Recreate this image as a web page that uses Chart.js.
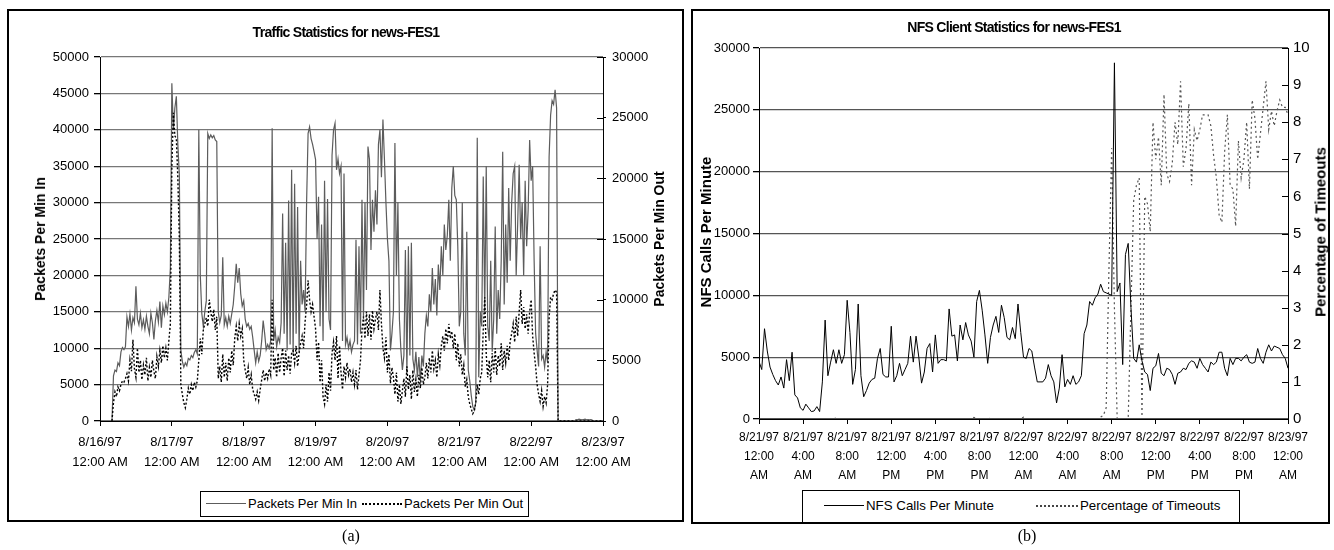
<!DOCTYPE html>
<html>
<head>
<meta charset="utf-8">
<script src="https://cdn.jsdelivr.net/npm/chart.js"></script>
<style>
  body { margin: 0; background: #fff; width: 1334px; height: 550px; position: relative; overflow: hidden; font-family: 'Liberation Sans', Arial, sans-serif; }
  .frame { position: absolute; border: 2px solid #000; box-sizing: border-box; }
  canvas { position: absolute; top: 0; }
  .txt { position: absolute; white-space: nowrap; color: #000; }
  .title { font-weight: bold; font-size: 14px; letter-spacing: -0.7px; transform: translate(-50%, -50%); }
  .ytitle { font-weight: bold; transform: translate(-50%, -50%) rotate(-90deg); }
  .legend { position: absolute; border: 1px solid #000; box-sizing: border-box; background: #fff; }
  .swatch { position: absolute; height: 0; }
  .item { transform: translateY(-50%); }
  .cap { font-family: 'Liberation Serif', 'Times New Roman', serif; font-size: 16px; transform: translate(-50%, -50%); }
</style>
</head>
<body>
<div class="frame" style="left:7px; top:9px; width:677px; height:513px;"></div>
<div class="frame" style="left:691px; top:9px; width:639px; height:515px;"></div>

<canvas id="traffic" width="680" height="550" style="left:0;"></canvas>
<canvas id="nfs" width="644" height="550" style="left:690px;"></canvas>

<div class="txt title" style="left:346px; top:32px;">Traffic Statistics for news-FES1</div>
<div class="txt ytitle" style="left:40px; top:239px; font-size:14px;">Packets Per Min In</div>
<div class="txt ytitle" style="left:659px; top:239px; font-size:14px;">Packets Per Min Out</div>

<div class="legend" style="left:200px; top:491px; width:329px; height:26px;"></div>
<div class="swatch" style="left:206px; top:503px; width:40px; border-top:1px solid #5c5c5c;"></div>
<div class="txt item" style="left:248px; top:503px; font-size:13px;">Packets Per Min In</div>
<div class="swatch" style="left:362px; top:503px; width:40px; border-top:2px dotted #000;"></div>
<div class="txt item" style="left:404px; top:503px; font-size:13px;">Packets Per Min Out</div>
<div class="txt cap" style="left:351px; top:536px;">(a)</div>

<div class="txt title" style="left:1014px; top:27px;">NFS Client Statistics for news-FES1</div>
<div class="txt ytitle" style="left:705px; top:232px; font-size:15px;">NFS Calls Per Minute</div>
<div class="txt ytitle" style="left:1320px; top:232px; font-size:15px;">Percentage of Timeouts</div>

<div class="legend" style="left:802px; top:490px; width:438px; height:33px;"></div>
<div class="swatch" style="left:824px; top:505px; width:40px; border-top:1px solid #000;"></div>
<div class="txt item" style="left:866px; top:505px; font-size:13.3px;">NFS Calls Per Minute</div>
<div class="swatch" style="left:1036px; top:505px; width:42px; border-top:2px dotted #444;"></div>
<div class="txt item" style="left:1080px; top:505px; font-size:13.3px;">Percentage of Timeouts</div>
<div class="txt cap" style="left:1027px; top:536px;">(b)</div>

<script>
// (a) traffic, one value every half hour from 8/16 4:00 AM
const trafficStartHour = 4;
const trafficStepHours = 0.5;
const trafficTickDates = ['8/16/97', '8/17/97', '8/18/97', '8/19/97', '8/20/97', '8/21/97', '8/22/97', '8/23/97'];
const trafficTickTime = '12:00 AM';

const packetsIn = [
  0, 6200, 7000, 6800, 8000, 7600, 9500, 10100, 9800, 10200, 14300, 13000,
  14700, 12500, 14200, 13500, 18500, 14000, 13200, 14800, 12800, 13900, 12600, 14400,
  13000, 12000, 14800, 13500, 11200, 13800, 15200, 13600, 16400, 12800, 15800, 14600,
  16200, 15000, 17000, 21000, 46400, 40000, 43000, 44600, 38000, 33800, 9700, 8200,
  7400, 8000, 7600, 8600, 8400, 9000, 8700, 9400, 9800, 9200, 40000, 20000,
  14800, 13000, 15000, 16500, 39500, 38800, 39300, 38900, 39200, 38600, 38400, 15000,
  13500, 14500, 22500, 13200, 14200, 13000, 14400, 13400, 14700, 16000, 18500, 21600,
  19000, 21000, 17500, 15800, 16500, 14000, 13000, 13400, 12600, 13000, 11500, 9700,
  8000, 9500, 8200, 9000, 11000, 13800, 12000, 9800, 10500, 10000, 11000, 40200,
  11000, 12500, 10200, 11500, 10800, 13500, 28500, 12000, 24500, 9700, 30300, 10500,
  34500, 9000, 32600, 12000, 29400, 9500, 22000, 16000, 18000, 15000, 30000, 39500,
  40400, 38800, 38000, 37000, 35900, 25000, 30800, 13000, 27000, 11000, 33000, 15000,
  30500, 14000, 12500, 36500, 40000, 40900, 34500, 36000, 34000, 35000, 11000, 34000,
  10500, 11500, 10000, 11000, 9500, 10500, 11000, 24900, 10500, 24000, 12000, 30400,
  14000, 30000, 18000, 37700, 35900, 23500, 30400, 26000, 31700, 27000, 38000, 40000,
  33500, 41400, 36000, 30000, 25000, 22000, 9700, 12000, 15000, 38200, 20000, 30000,
  14000, 9700, 7000, 9000, 23500, 6500, 24000, 9000, 24500, 8500, 7000, 9500,
  6000, 8800, 5500, 9000, 7500, 12000, 14500, 13000, 17400, 15000, 21000, 16000,
  19500, 14500, 21500, 18000, 24000, 20000, 27000, 23500, 25500, 30400, 22000, 32000,
  35000, 31000, 30400, 24000, 13000, 15000, 30000, 12000, 9000, 26000, 7000, 5500,
  3500, 2000, 1500, 2500, 38900, 6000, 15000, 13000, 33600, 15000, 35000, 13000,
  11000, 22000, 9500, 14000, 26700, 12000, 18000, 14000, 22000, 37000, 16000, 27000,
  19000, 32000, 22000, 30000, 34000, 35000, 20000, 27000, 35200, 25000, 30000, 20000,
  33000, 24000, 29000, 38600, 33000, 35000, 22000, 12000, 9700, 7500, 24000, 8500,
  9000, 7400, 9500, 8000, 36300, 42000, 44000, 43500, 45500, 43000, 0, 0,
  0, 0, 0, 0, 0, 0, 0, 0, 0, 0, 200, 150,
  250, 200, 150, 200, 250, 150, 200, 150, 200, 100, 0, 0,
  0, 0, 0, 0, 0
];

const packetsOut = [
  0, 1500, 2400, 2000, 2800, 2500, 3000, 3300, 3200, 3500, 3900, 3300,
  5000, 4100, 6700, 4300, 3600, 6000, 4000, 5000, 3400, 4600, 3800, 5200,
  3300, 4400, 3600, 5000, 4100, 3500, 5300, 4500, 5800, 4800, 6200, 5200,
  6000, 5000, 6600, 8000, 21000, 25400, 23500, 23300, 20000, 15000, 3000, 2200,
  1500, 1100, 1800, 2700, 2200, 3000, 2500, 3200, 2800, 3300, 5000, 6800,
  5500, 7500, 8000, 8500, 7800, 10000, 9000, 8200, 9200, 7500, 8600, 3500,
  4500, 3200, 5500, 3600, 4800, 3300, 5200, 4000, 5800, 4600, 6800, 7800,
  6600, 8000, 7000, 7600, 5000, 4200, 3500, 4400, 3000, 3800, 2600, 2200,
  1800, 2400, 1700, 2600, 3400, 4200, 3300, 4000, 3500, 4300, 3800, 10000,
  4200, 5200, 3600, 5600, 4000, 5200, 6000, 3700, 5800, 4200, 5400, 3900,
  5600, 5800, 4800, 6200, 4500, 5600, 6400, 7000, 6000, 8200, 9500, 11600,
  10000, 9000, 9600, 8600, 7600, 5000, 6500, 3200, 5000, 2000, 1400, 3000,
  1600, 4000, 2500, 5600, 6500, 5000, 7000, 3500, 6200, 4000, 2600, 4500,
  3600, 4800, 3800, 4300, 3200, 4000, 3000, 4200, 2600, 3800, 5000, 7500,
  8600, 6800, 9000, 7000, 8800, 6700, 9100, 7600, 8400, 9000, 7500, 10800,
  8000, 6000, 5200, 6900, 4000, 5500, 3100, 4400, 3600, 2200, 4000, 1600,
  3000, 1400, 2500, 3500, 2000, 4500, 2600, 3800, 1800, 4200, 2400, 3400,
  2000, 3800, 2700, 4400, 3000, 3600, 4800, 3500, 5200, 4000, 5800, 4300,
  5000, 3600, 5500, 4600, 6200, 7000, 5800, 7600, 6400, 8000, 6800, 7400,
  6000, 7200, 5000, 6400, 4500, 5500, 3800, 4600, 2800, 3400, 2000, 1400,
  1000, 600, 800, 1500, 3000, 2200, 3500, 4000, 7500, 10200, 5500, 3600,
  5000, 3200, 5600, 4000, 6000, 3800, 5400, 4500, 6400, 4200, 5800, 4800,
  6200, 5000, 6600, 7200, 8000, 6500, 8600, 7000, 9000, 10800, 8000, 9400,
  7600, 8800, 7200, 9000, 10000, 7000, 5600, 4500, 3000, 2200, 1600, 2500,
  1200, 2000, 1500, 3000, 8500, 10200, 10000, 10500, 10800, 10600, 0, 0,
  0, 0, 0, 0, 0, 0, 0, 0, 0, 0, 0, 0,
  0, 0, 0, 0, 0, 0, 0, 0, 0, 0, 0, 0,
  0, 0, 0, 0, 0
];

// (b) NFS, one value every 15 minutes from 8/21 12:00 AM
const nfsStepHours = 0.25;
const nfsTickDates = ['8/21/97', '8/21/97', '8/21/97', '8/21/97', '8/21/97', '8/21/97', '8/22/97', '8/22/97', '8/22/97', '8/22/97', '8/22/97', '8/22/97', '8/23/97'];
const nfsTickTimes = ['12:00', '4:00', '8:00', '12:00', '4:00', '8:00', '12:00', '4:00', '8:00', '12:00', '4:00', '8:00', '12:00'];
const nfsTickHalves = ['AM', 'AM', 'AM', 'PM', 'PM', 'PM', 'AM', 'AM', 'AM', 'PM', 'PM', 'PM', 'AM'];

const nfsCalls = [
  4650, 4000, 7300, 5500, 4200, 3600, 3100, 2750, 3400, 2500,
  4800, 3100, 5400, 1950, 1700, 900, 700, 1200, 900, 600,
  650, 1000, 600, 3000, 8000, 3500, 4600, 5600, 4500, 5600,
  4500, 5200, 9600, 7000, 2800, 4000, 9300, 3500, 1800, 2300,
  2900, 3200, 3300, 4900, 5700, 3600, 3400, 3400, 7500, 3000,
  3500, 4500, 3500, 4000, 4500, 6700, 4600, 6700, 5000, 2900,
  3800, 5700, 6100, 3800, 6800, 4500, 4800, 4800, 4700, 8900,
  6700, 6800, 4700, 7600, 6400, 7800, 6800, 6300, 5000, 9500,
  10400, 8800, 6800, 4500, 6600, 7600, 8300, 7000, 9200, 8200,
  6600, 6400, 7400, 6500, 9300, 7000, 5000, 4900, 5700, 5500,
  4200, 3000, 3000, 3000, 3300, 4400, 3500, 3000, 1300, 2500,
  5200, 2600, 3200, 2800, 3500, 2800, 3000, 3500, 6900, 7600,
  9500, 9200, 9800, 10100, 10900, 10300, 10200, 10100, 10000, 28800,
  10300, 11000, 4400, 13300, 14200, 9000, 4900, 4600, 6000, 4700,
  3800, 3600, 2300, 4100, 4300, 5300, 3700, 3500, 4100, 4000,
  3600, 2800, 3700, 3800, 4100, 4000, 4500, 4700, 4600, 4100,
  4900, 4400, 4100, 3800, 4600, 4400, 4600, 5400, 5400, 4100,
  3500, 4900, 4400, 4900, 4900, 4700, 5000, 5200, 4600, 4500,
  4600, 5700, 4900, 4500, 5400, 6000, 5500, 5900, 5800, 5700,
  5200, 4900, 4100
];

const timeoutPct = [
  0, 0, 0, 0, 0, 0, 0, 0, 0, 0, 0, 0,
  0, 0, 0, 0, 0, 0, 0, 0, 0, 0, 0, 0,
  0, 0, 0, 0, 0.03, 0, 0, 0, 0, 0, 0, 0,
  0, 0, 0, 0, 0, 0, 0, 0, 0, 0, 0, 0,
  0, 0, 0, 0, 0, 0, 0, 0, 0, 0, 0, 0,
  0, 0, 0, 0, 0, 0, 0, 0, 0, 0, 0, 0,
  0, 0, 0, 0, 0, 0, 0.04, 0, 0, 0, 0, 0,
  0.03, 0, 0, 0, 0, 0, 0, 0, 0, 0, 0, 0,
  0.05, 0, 0, 0, 0, 0, 0, 0, 0, 0, 0, 0,
  0, 0, 0, 0, 0, 0, 0, 0, 0, 0, 0, 0,
  0, 0, 0, 0,
  0.05, 0.1, 0.3, 4.0, 7.3, 3.0, 0, 0, 0, 0, 0, 3.0,
  5.9, 6.3, 6.5, 0, 6.0, 5.8, 5.05, 8.0, 7.0, 7.6, 6.3, 8.75,
  6.6, 6.4, 6.9, 8.0, 7.4, 9.1, 6.8, 7.3, 8.5, 6.3, 7.8, 7.5,
  7.8, 8.2, 8.2, 8.2, 7.9, 7.1, 6.5, 5.5, 5.3, 7.2, 8.2, 6.3,
  6.2, 5.2, 7.5, 6.5, 7.0, 8.0, 6.2, 8.6, 8.1, 7.0, 7.7, 8.4,
  9.1, 7.8, 8.3, 7.9, 8.3, 8.6, 8.4, 8.4, 8.2
];

Chart.defaults.font.family = "'Liberation Sans', Arial, sans-serif";
Chart.defaults.color = '#000';

function toPoints(values, start, step) {
  return values.map((v, i) => ({ x: start + i * step, y: v }));
}

// tick marks that point into the plot on a right hand axis
const innerTicks = {
  id: 'innerTicks',
  afterDraw(chart, args, opts) {
    const scale = chart.scales[opts.axis];
    const ctx = chart.ctx;
    ctx.save();
    ctx.strokeStyle = '#000';
    ctx.lineWidth = 1;
    ctx.beginPath();
    scale.ticks.forEach(t => {
      const y = Math.round(scale.getPixelForValue(t.value)) + 0.5;
      ctx.moveTo(scale.left, y);
      ctx.lineTo(scale.left - opts.length, y);
    });
    ctx.stroke();
    ctx.restore();
  }
};

const axisBorder = { color: '#000', width: 1 };

new Chart(document.getElementById('traffic'), {
  type: 'line',
  data: {
    datasets: [
      {
        label: 'Packets Per Min In',
        data: toPoints(packetsIn, trafficStartHour, trafficStepHours),
        borderColor: '#5c5c5c',
        borderWidth: 1.2,
        yAxisID: 'yIn',
        order: 1
      },
      {
        label: 'Packets Per Min Out',
        data: toPoints(packetsOut, trafficStartHour, trafficStepHours),
        borderColor: '#000',
        borderWidth: 1.4,
        borderDash: [2, 2],
        yAxisID: 'yOut',
        order: 0
      }
    ]
  },
  options: {
    responsive: false,
    animation: false,
    layout: { padding: { top: 57 } },
    elements: { point: { radius: 0 }, line: { tension: 0 } },
    plugins: {
      legend: { display: false },
      tooltip: { enabled: false },
      innerTicks: { axis: 'yOut', length: 6 }
    },
    scales: {
      x: {
        type: 'linear', min: 0, max: 168,
        afterFit: s => { s.height = 129; },
        grid: { drawOnChartArea: false, tickLength: 5, tickColor: '#000' },
        border: axisBorder,
        ticks: {
          stepSize: 24, autoSkip: false, maxRotation: 0, padding: 7,
          font: { size: 13, lineHeight: 1.5 },
          callback: (v, i) => [trafficTickDates[i], trafficTickTime]
        }
      },
      yIn: {
        position: 'left', min: 0, max: 50000,
        afterFit: s => { s.width = 100; },
        grid: { color: '#777', lineWidth: 1.3, tickLength: 6, tickColor: '#000' },
        border: axisBorder,
        ticks: { stepSize: 5000, padding: 5, font: { size: 13 }, callback: v => String(v) }
      },
      yOut: {
        position: 'right', min: 0, max: 30000,
        afterFit: s => { s.width = 77; },
        grid: { drawOnChartArea: false, tickLength: 3, tickColor: '#000' },
        border: axisBorder,
        ticks: { stepSize: 5000, padding: 6, font: { size: 13 }, callback: v => String(v) }
      }
    }
  },
  plugins: [innerTicks]
});

new Chart(document.getElementById('nfs'), {
  type: 'line',
  data: {
    datasets: [
      {
        label: 'NFS Calls Per Minute',
        data: toPoints(nfsCalls, 0, nfsStepHours),
        borderColor: '#000',
        borderWidth: 1,
        yAxisID: 'yCalls',
        order: 0
      },
      {
        label: 'Percentage of Timeouts',
        data: toPoints(timeoutPct, 0, nfsStepHours),
        borderColor: '#555',
        borderWidth: 1.2,
        borderDash: [2, 3],
        yAxisID: 'yPct',
        order: 1
      }
    ]
  },
  options: {
    responsive: false,
    animation: false,
    layout: { padding: { top: 48 } },
    elements: { point: { radius: 0 }, line: { tension: 0 } },
    plugins: {
      legend: { display: false },
      tooltip: { enabled: false },
      innerTicks: { axis: 'yPct', length: 6 }
    },
    scales: {
      x: {
        type: 'linear', min: 0, max: 48,
        afterFit: s => { s.height = 131; },
        grid: { drawOnChartArea: false, tickLength: 5, tickColor: '#000' },
        border: axisBorder,
        ticks: {
          stepSize: 4, autoSkip: false, maxRotation: 0, padding: 4,
          font: { size: 12, lineHeight: 1.6 },
          callback: (v, i) => [nfsTickDates[i], nfsTickTimes[i], nfsTickHalves[i]]
        }
      },
      yCalls: {
        position: 'left', min: 0, max: 30000,
        afterFit: s => { s.width = 69; },
        grid: { color: '#555', lineWidth: 1.3, tickLength: 6, tickColor: '#000' },
        border: axisBorder,
        ticks: { stepSize: 5000, padding: 3, font: { size: 13 }, callback: v => String(v) }
      },
      yPct: {
        position: 'right', min: 0, max: 10,
        afterFit: s => { s.width = 46; },
        grid: { drawOnChartArea: false, drawTicks: false },
        border: axisBorder,
        ticks: { stepSize: 1, padding: 5, font: { size: 15 }, callback: v => String(v) }
      }
    }
  },
  plugins: [innerTicks]
});
</script>
</body>
</html>
